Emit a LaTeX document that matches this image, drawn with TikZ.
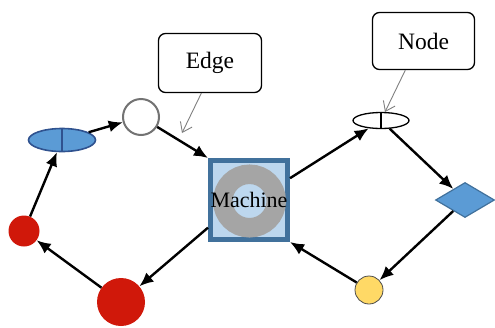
\documentclass[tikz,border=0pt]{standalone}
\usepackage{fontspec}
\setmainfont{Liberation Serif}
\usetikzlibrary{shapes.geometric,arrows.meta,calc}
\definecolor{bluefill}{HTML}{5B9BD5}
\definecolor{blueline}{HTML}{2F528F}
\definecolor{diaLine}{HTML}{41719C}
\definecolor{redfill}{RGB}{208,24,10}
\definecolor{machline}{HTML}{41719C}
\definecolor{machfill}{HTML}{BDD7EE}
\definecolor{ringgray}{HTML}{A5A5A5}
\definecolor{yelfill}{HTML}{FFD966}
\definecolor{circgray}{HTML}{737373}
\definecolor{callgray}{HTML}{7F7F7F}
\tikzset{
  arr/.style={line width=2.4pt,-{Latex[length=14pt,width=12pt]}},
  callarr/.style={draw=callgray,line width=0.9pt,-{Straight Barb[length=9pt,width=13pt]}},
  callbox/.style={draw,rounded corners=7pt,line width=1.3pt,fill=white,inner sep=0pt,font=\fontsize{23.5}{26}\selectfont},
  redc/.style={circle,fill=redfill,inner sep=0pt},
}
\begin{document}
\begin{tikzpicture}[x=1pt,y=-1pt]
\useasboundingbox (0,0) rectangle (495,327);
% machine
\node[draw=machline,line width=5pt,fill=machfill,minimum width=77pt,minimum height=79pt,inner sep=0pt] (machine) at (249,200) {};
\draw[ringgray,line width=19.5pt] (249.5,201) circle (26.75);
\node[font=\fontsize{22}{24}\selectfont] (mlabel) at (249,200) {Machine};
% left nodes
\node[ellipse,draw=blueline,line width=1.6pt,fill=bluefill,minimum width=67pt,minimum height=23pt,inner sep=0pt] (blue) at (62,140) {};
\draw[blueline,line width=1.6pt] (blue.north) -- (blue.south);
\node[circle,draw=circgray,line width=2pt,fill=white,minimum size=36pt,inner sep=0pt] (gray) at (141,117) {};
\node[redc,minimum size=31pt] (redS) at (24,231) {};
\node[redc,minimum size=48pt] (redL) at (121,302) {};
% right nodes
\node[ellipse,draw,line width=1.3pt,fill=white,minimum width=56pt,minimum height=16pt,inner sep=0pt] (white) at (381,120.5) {};
\draw[line width=1.3pt] (white.north) -- (white.south);
\node[diamond,draw=diaLine,line width=1.2pt,fill=bluefill,minimum width=59pt,minimum height=35pt,inner sep=0pt] (dia) at (465,200) {};
\node[circle,draw=black!70,line width=0.8pt,fill=yelfill,minimum size=28pt,inner sep=0pt] (yel) at (369,290) {};
% callouts
\node[callbox,minimum width=103pt,minimum height=59pt] (edge) at (210,63) {Edge};
\node[callbox,minimum width=102pt,minimum height=57pt] (nodebox) at (423.5,41) {Node};
\coordinate (etip) at (182,133);
\coordinate (ntip) at (385,112);
\draw[callarr] (edge.254) -- (etip);
\draw[callarr] (nodebox.238) -- (ntip);
% connectors
\draw[arr] (redS) -- (blue);
\draw[arr] (blue) -- (gray);
\draw[arr] (gray) -- (machine.north west);
\draw[arr] (machine.28) -- (white);
\draw[arr] (white) -- (dia);
\draw[arr] (dia) -- (yel);
\draw[arr] (yel) -- (machine.south east);
\draw[arr] (machine.214) -- (redL);
\draw[arr] (redL) -- (redS);
\end{tikzpicture}
\end{document}
